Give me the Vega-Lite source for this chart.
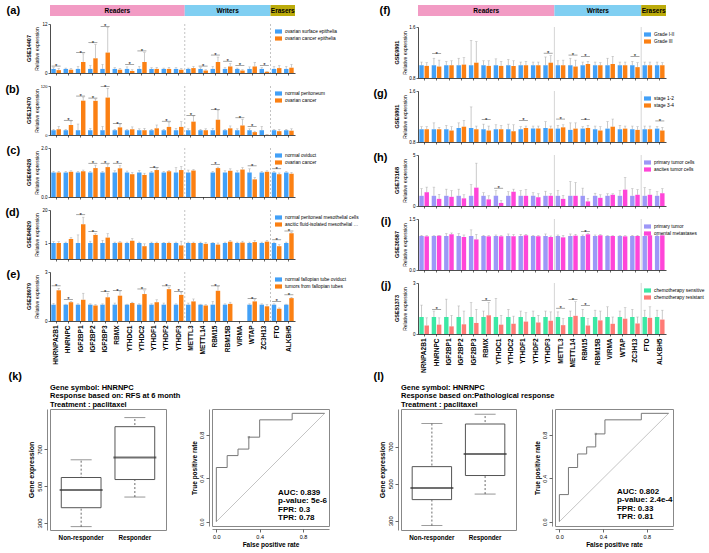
{
"$schema":"https://vega.github.io/schema/vega-lite/v6.json",
"padding":{"left":5,"top":5,"right":0,"bottom":0},
"config":{"font":"Liberation Sans","view":{"stroke":null},
 "axis":{"domainColor":"#000","tickColor":"#000","labelColor":"#000","titleColor":"#000","grid":false,"domainWidth":0.7,"tickWidth":0.6},
 "title":{"color":"#000"},
 "legend":{"labelFontSize":4.8,"symbolType":"M-1,-0.6H1V0.6H-1Z","symbolSize":49,"symbolStrokeWidth":0,"rowPadding":1,"labelLimit":75,"padding":0,"labelOffset":3,"labelColor":"#000"}},
"datasets":{
"sep":[{"g":"METTL3"},{"g":"FTO"}],
"hdr":[{"grp":"Readers","s":0,"e":11,"m":5.5},{"grp":"Writers","s":11,"e":18,"m":14.5},{"grp":"Erasers","s":18,"e":20,"m":19}],
"a":[{"g":"HNRNPA2B1","k":0,"v":1,"h":1.3},{"g":"HNRNPA2B1","k":1,"v":0.7,"h":1.1},{"g":"HNRNPC","k":0,"v":1,"h":1.2},{"g":"HNRNPC","k":1,"v":0.8,"h":1.1},{"g":"IGF2BP1","k":0,"v":1,"h":1.6},{"g":"IGF2BP1","k":1,"v":2.7,"h":4.7},{"g":"IGF2BP2","k":0,"v":1,"h":1.8},{"g":"IGF2BP2","k":1,"v":3.6,"h":7},{"g":"IGF2BP3","k":0,"v":1,"h":2.1},{"g":"IGF2BP3","k":1,"v":5,"h":11.2},{"g":"RBMX","k":0,"v":1,"h":1.3},{"g":"RBMX","k":1,"v":0.8,"h":1.1},{"g":"YTHDC1","k":0,"v":1,"h":1.5},{"g":"YTHDC1","k":1,"v":0.5,"h":0.8},{"g":"YTHDC2","k":0,"v":1,"h":1.6},{"g":"YTHDC2","k":1,"v":2.7,"h":5},{"g":"YTHDF1","k":0,"v":1,"h":1.3},{"g":"YTHDF1","k":1,"v":1,"h":1.4},{"g":"YTHDF2","k":0,"v":1,"h":1.2},{"g":"YTHDF2","k":1,"v":1,"h":1.4},{"g":"YTHDF3","k":0,"v":1,"h":1.3},{"g":"YTHDF3","k":1,"v":0.8,"h":1.1},{"g":"METTL3","k":0,"v":1,"h":1.2},{"g":"METTL3","k":1,"v":1.2,"h":1.6},{"g":"METTL14","k":0,"v":1,"h":1.3},{"g":"METTL14","k":1,"v":0.6,"h":0.8},{"g":"RBM15","k":0,"v":1,"h":1.6},{"g":"RBM15","k":1,"v":2.7,"h":3.9},{"g":"RBM15B","k":0,"v":1,"h":1.3},{"g":"RBM15B","k":1,"v":1.6,"h":2.3},{"g":"VIRMA","k":0,"v":1,"h":1.2},{"g":"VIRMA","k":1,"v":0.6,"h":0.8},{"g":"WTAP","k":0,"v":1,"h":1.5},{"g":"WTAP","k":1,"v":1.6,"h":2.6},{"g":"ZC3H13","k":0,"v":1,"h":1.3},{"g":"ZC3H13","k":1,"v":0.3,"h":0.4},{"g":"FTO","k":0,"v":1,"h":1.6},{"g":"FTO","k":1,"v":1.2,"h":1.8},{"g":"ALKBH5","k":0,"v":1,"h":1.6},{"g":"ALKBH5","k":1,"v":1.3,"h":2.1}],
"a_s":[{"g":"HNRNPA2B1","v":1.7},{"g":"IGF2BP1","v":5.0},{"g":"IGF2BP2","v":7.4},{"g":"IGF2BP3","v":11.4},{"g":"YTHDC1","v":2.1},{"g":"YTHDC2","v":5.4},{"g":"METTL14","v":1.7},{"g":"RBM15","v":4.4},{"g":"RBM15B","v":2.9},{"g":"VIRMA","v":1.9},{"g":"ZC3H13","v":1.9}],
"b":[{"g":"HNRNPA2B1","k":0,"v":1,"h":1.2},{"g":"HNRNPA2B1","k":1,"v":1.2,"h":1.8},{"g":"HNRNPC","k":0,"v":1,"h":1.2},{"g":"HNRNPC","k":1,"v":2.1,"h":2.9},{"g":"IGF2BP1","k":0,"v":1,"h":2.3},{"g":"IGF2BP1","k":1,"v":25,"h":48},{"g":"IGF2BP2","k":0,"v":1,"h":1.4},{"g":"IGF2BP2","k":1,"v":24,"h":36},{"g":"IGF2BP3","k":0,"v":1,"h":1.8},{"g":"IGF2BP3","k":1,"v":45,"h":105},{"g":"RBMX","k":0,"v":1,"h":1.2},{"g":"RBMX","k":1,"v":1.6,"h":2.2},{"g":"YTHDC1","k":0,"v":1,"h":1.2},{"g":"YTHDC1","k":1,"v":1.2,"h":1.7},{"g":"YTHDC2","k":0,"v":1,"h":1.3},{"g":"YTHDC2","k":1,"v":1.0,"h":1.4},{"g":"YTHDF1","k":0,"v":1,"h":1.2},{"g":"YTHDF1","k":1,"v":1.4,"h":2.1},{"g":"YTHDF2","k":0,"v":1,"h":1.2},{"g":"YTHDF2","k":1,"v":1.7,"h":2.6},{"g":"YTHDF3","k":0,"v":1,"h":1.4},{"g":"YTHDF3","k":1,"v":1.7,"h":2.8},{"g":"METTL3","k":0,"v":1,"h":1.3},{"g":"METTL3","k":1,"v":2.8,"h":4.0},{"g":"METTL14","k":0,"v":1,"h":1.2},{"g":"METTL14","k":1,"v":1.0,"h":1.3},{"g":"RBM15","k":0,"v":1,"h":1.4},{"g":"RBM15","k":1,"v":3.2,"h":5.2},{"g":"RBM15B","k":0,"v":1,"h":1.2},{"g":"RBM15B","k":1,"v":1.4,"h":1.9},{"g":"VIRMA","k":0,"v":1,"h":1.3},{"g":"VIRMA","k":1,"v":2.0,"h":3.3},{"g":"WTAP","k":0,"v":1,"h":1.3},{"g":"WTAP","k":1,"v":0.6,"h":0.8},{"g":"ZC3H13","k":0,"v":1,"h":1.8},{"g":"ZC3H13","k":1,"v":0.05,"h":0.1},{"g":"FTO","k":0,"v":1,"h":1.2},{"g":"FTO","k":1,"v":0.8,"h":1.2},{"g":"ALKBH5","k":0,"v":1,"h":1.2},{"g":"ALKBH5","k":1,"v":0.9,"h":1.3}],
"b_s":[{"g":"HNRNPC","v":3.1},{"g":"IGF2BP1","v":55},{"g":"IGF2BP2","v":42},{"g":"IGF2BP3","v":115},{"g":"RBMX","v":2.4},{"g":"YTHDF2","v":2.9},{"g":"METTL3","v":4.1},{"g":"RBM15","v":5.3},{"g":"VIRMA","v":3.6},{"g":"WTAP","v":1.8}],
"c":[{"g":"HNRNPA2B1","k":0,"v":1,"h":1.05},{"g":"HNRNPA2B1","k":1,"v":1.0,"h":1.05},{"g":"HNRNPC","k":0,"v":1,"h":1.05},{"g":"HNRNPC","k":1,"v":1.03,"h":1.07},{"g":"IGF2BP1","k":0,"v":1,"h":1.05},{"g":"IGF2BP1","k":1,"v":1.05,"h":1.1},{"g":"IGF2BP2","k":0,"v":1,"h":1.05},{"g":"IGF2BP2","k":1,"v":1.18,"h":1.3},{"g":"IGF2BP3","k":0,"v":1,"h":1.04},{"g":"IGF2BP3","k":1,"v":1.22,"h":1.33},{"g":"RBMX","k":0,"v":1,"h":1.07},{"g":"RBMX","k":1,"v":1.17,"h":1.28},{"g":"YTHDC1","k":0,"v":1,"h":1.06},{"g":"YTHDC1","k":1,"v":0.93,"h":1.0},{"g":"YTHDC2","k":0,"v":1,"h":1.08},{"g":"YTHDC2","k":1,"v":0.9,"h":0.97},{"g":"YTHDF1","k":0,"v":1,"h":1.05},{"g":"YTHDF1","k":1,"v":1.1,"h":1.15},{"g":"YTHDF2","k":0,"v":1,"h":1.05},{"g":"YTHDF2","k":1,"v":1.05,"h":1.09},{"g":"YTHDF3","k":0,"v":1,"h":1.2},{"g":"YTHDF3","k":1,"v":1.1,"h":1.25},{"g":"METTL3","k":0,"v":1,"h":1.1},{"g":"METTL3","k":1,"v":1.08,"h":1.12},{"g":"RBM15","k":0,"v":1,"h":1.05},{"g":"RBM15","k":1,"v":1.18,"h":1.22},{"g":"RBM15B","k":0,"v":1,"h":1.07},{"g":"RBM15B","k":1,"v":1.07,"h":1.15},{"g":"VIRMA","k":0,"v":1,"h":1.07},{"g":"VIRMA","k":1,"v":1.12,"h":1.2},{"g":"WTAP","k":0,"v":1,"h":1.15},{"g":"WTAP","k":1,"v":0.72,"h":0.8},{"g":"ZC3H13","k":0,"v":1,"h":1.05},{"g":"ZC3H13","k":1,"v":1.03,"h":1.07},{"g":"FTO","k":0,"v":1,"h":1.05},{"g":"FTO","k":1,"v":0.93,"h":0.98},{"g":"ALKBH5","k":0,"v":1,"h":1.04},{"g":"ALKBH5","k":1,"v":0.95,"h":1.0}],
"c_s":[{"g":"IGF2BP2","v":1.38},{"g":"IGF2BP3","v":1.38},{"g":"RBMX","v":1.38},{"g":"YTHDF1","v":1.2},{"g":"RBM15","v":1.33},{"g":"WTAP","v":1.27},{"g":"FTO","v":1.15}],
"d":[{"g":"HNRNPA2B1","k":0,"v":1,"h":1.15},{"g":"HNRNPA2B1","k":1,"v":1.0,"h":1.15},{"g":"HNRNPC","k":0,"v":1,"h":1.1},{"g":"HNRNPC","k":1,"v":1.45,"h":1.6},{"g":"IGF2BP1","k":0,"v":1,"h":1.9},{"g":"IGF2BP1","k":1,"v":8.5,"h":14},{"g":"IGF2BP2","k":0,"v":1,"h":1.2},{"g":"IGF2BP2","k":1,"v":1.9,"h":2.2},{"g":"IGF2BP3","k":0,"v":1,"h":1.3},{"g":"IGF2BP3","k":1,"v":1.6,"h":2.2},{"g":"RBMX","k":0,"v":1,"h":1.1},{"g":"RBMX","k":1,"v":1.05,"h":1.15},{"g":"YTHDC1","k":0,"v":1,"h":1.1},{"g":"YTHDC1","k":1,"v":1.25,"h":1.5},{"g":"YTHDC2","k":0,"v":1,"h":1.1},{"g":"YTHDC2","k":1,"v":0.8,"h":0.95},{"g":"YTHDF1","k":0,"v":1,"h":1.1},{"g":"YTHDF1","k":1,"v":1.0,"h":1.1},{"g":"YTHDF2","k":0,"v":1,"h":1.08},{"g":"YTHDF2","k":1,"v":1.0,"h":1.1},{"g":"YTHDF3","k":0,"v":1,"h":1.1},{"g":"YTHDF3","k":1,"v":0.85,"h":1.2},{"g":"METTL3","k":0,"v":1,"h":1.1},{"g":"METTL3","k":1,"v":1.0,"h":1.1},{"g":"METTL14","k":0,"v":1,"h":1.1},{"g":"METTL14","k":1,"v":0.95,"h":1.05},{"g":"RBM15","k":0,"v":1,"h":1.05},{"g":"RBM15","k":1,"v":0.9,"h":1.0},{"g":"RBM15B","k":0,"v":1,"h":1.1},{"g":"RBM15B","k":1,"v":1.15,"h":1.3},{"g":"VIRMA","k":0,"v":1,"h":1.1},{"g":"VIRMA","k":1,"v":1.05,"h":1.2},{"g":"WTAP","k":0,"v":1,"h":1.1},{"g":"WTAP","k":1,"v":1.1,"h":1.3},{"g":"ZC3H13","k":0,"v":1,"h":1.1},{"g":"ZC3H13","k":1,"v":1.15,"h":1.3},{"g":"FTO","k":0,"v":1,"h":1.1},{"g":"FTO","k":1,"v":0.8,"h":0.9},{"g":"ALKBH5","k":0,"v":1,"h":1.1},{"g":"ALKBH5","k":1,"v":2.5,"h":3}],
"d_s":[{"g":"IGF2BP1","v":16},{"g":"IGF2BP2","v":3.5},{"g":"FTO","v":1.35},{"g":"ALKBH5","v":4}],
"e":[{"g":"HNRNPA2B1","k":0,"v":1,"h":1.08},{"g":"HNRNPA2B1","k":1,"v":1.88,"h":2.0},{"g":"HNRNPC","k":0,"v":1,"h":1.03},{"g":"HNRNPC","k":1,"v":1.15,"h":1.2},{"g":"IGF2BP1","k":0,"v":1,"h":1.05},{"g":"IGF2BP1","k":1,"v":1.3,"h":1.7},{"g":"IGF2BP2","k":0,"v":1,"h":1.05},{"g":"IGF2BP2","k":1,"v":0.95,"h":1.0},{"g":"IGF2BP3","k":0,"v":1,"h":1.05},{"g":"IGF2BP3","k":1,"v":1.45,"h":1.7},{"g":"RBMX","k":0,"v":1,"h":1.1},{"g":"RBMX","k":1,"v":1.55,"h":1.8},{"g":"YTHDC1","k":0,"v":1,"h":1.03},{"g":"YTHDC1","k":1,"v":1.1,"h":1.15},{"g":"YTHDC2","k":0,"v":1,"h":1.05},{"g":"YTHDC2","k":1,"v":1.65,"h":1.85},{"g":"YTHDF1","k":0,"v":1,"h":1.05},{"g":"YTHDF1","k":1,"v":1.15,"h":1.3},{"g":"YTHDF2","k":0,"v":1,"h":1.1},{"g":"YTHDF2","k":1,"v":1.95,"h":2.05},{"g":"YTHDF3","k":0,"v":1,"h":1.05},{"g":"YTHDF3","k":1,"v":1.6,"h":1.75},{"g":"METTL3","k":0,"v":1,"h":1.1},{"g":"METTL3","k":1,"v":1.2,"h":1.35},{"g":"METTL14","k":0,"v":1,"h":1.03},{"g":"METTL14","k":1,"v":0.95,"h":1.0},{"g":"RBM15","k":0,"v":1,"h":1.2},{"g":"RBM15","k":1,"v":1.85,"h":2.1},{"g":"RBM15B","k":0,"v":1,"h":1.05},{"g":"RBM15B","k":1,"v":1.05,"h":1.15},{"g":"WTAP","k":0,"v":1,"h":1.05},{"g":"WTAP","k":1,"v":1.2,"h":1.3},{"g":"ZC3H13","k":0,"v":1,"h":1.05},{"g":"ZC3H13","k":1,"v":0.9,"h":1.0},{"g":"FTO","k":0,"v":1,"h":1.05},{"g":"FTO","k":1,"v":0.75,"h":0.8},{"g":"ALKBH5","k":0,"v":1,"h":1.03},{"g":"ALKBH5","k":1,"v":1.4,"h":1.45}],
"e_s":[{"g":"HNRNPA2B1","v":2.15},{"g":"HNRNPC","v":1.33},{"g":"IGF2BP3","v":1.8},{"g":"RBMX","v":1.86},{"g":"YTHDC2","v":1.96},{"g":"YTHDF2","v":2.15},{"g":"YTHDF3","v":1.82},{"g":"RBM15","v":2.15},{"g":"WTAP","v":1.37},{"g":"FTO","v":1.2},{"g":"ALKBH5","v":1.6}],
"f":[{"g":"HNRNPA2B1","k":0,"v":1,"h":1.05},{"g":"HNRNPA2B1","k":1,"v":0.99,"h":1.04},{"g":"HNRNPC","k":0,"v":1,"h":1.11},{"g":"HNRNPC","k":1,"v":0.98,"h":1.08},{"g":"IGF2BP1","k":0,"v":1,"h":1.06},{"g":"IGF2BP1","k":1,"v":1.0,"h":1.07},{"g":"IGF2BP2","k":0,"v":1,"h":1.11},{"g":"IGF2BP2","k":1,"v":1.01,"h":1.12},{"g":"IGF2BP3","k":0,"v":1,"h":1.39},{"g":"IGF2BP3","k":1,"v":1.04,"h":1.37},{"g":"RBMX","k":0,"v":1,"h":1.07},{"g":"RBMX","k":1,"v":0.99,"h":1.07},{"g":"YTHDC1","k":0,"v":1,"h":1.1},{"g":"YTHDC1","k":1,"v":0.99,"h":1.06},{"g":"YTHDC2","k":0,"v":1,"h":1.09},{"g":"YTHDC2","k":1,"v":0.99,"h":1.07},{"g":"YTHDF1","k":0,"v":1,"h":1.05},{"g":"YTHDF1","k":1,"v":1.0,"h":1.06},{"g":"YTHDF2","k":0,"v":1,"h":1.05},{"g":"YTHDF2","k":1,"v":1.0,"h":1.05},{"g":"YTHDF3","k":0,"v":1,"h":1.13},{"g":"YTHDF3","k":1,"v":1.04,"h":1.15},{"g":"METTL3","k":0,"v":1,"h":1.07},{"g":"METTL3","k":1,"v":1.0,"h":1.08},{"g":"METTL14","k":0,"v":1,"h":1.11},{"g":"METTL14","k":1,"v":0.98,"h":1.08},{"g":"RBM15","k":0,"v":1,"h":1.05},{"g":"RBM15","k":1,"v":1.02,"h":1.06},{"g":"RBM15B","k":0,"v":1,"h":1.05},{"g":"RBM15B","k":1,"v":1.0,"h":1.04},{"g":"VIRMA","k":0,"v":1,"h":1.11},{"g":"VIRMA","k":1,"v":1.02,"h":1.14},{"g":"WTAP","k":0,"v":1,"h":1.05},{"g":"WTAP","k":1,"v":1.0,"h":1.05},{"g":"ZC3H13","k":0,"v":1,"h":1.06},{"g":"ZC3H13","k":1,"v":0.97,"h":1.04},{"g":"FTO","k":0,"v":1,"h":1.05},{"g":"FTO","k":1,"v":1.0,"h":1.05},{"g":"ALKBH5","k":0,"v":1,"h":1.05},{"g":"ALKBH5","k":1,"v":1.0,"h":1.04}],
"f_s":[{"g":"HNRNPC","v":1.18},{"g":"YTHDF3","v":1.19},{"g":"METTL14","v":1.16},{"g":"RBM15","v":1.14},{"g":"ZC3H13","v":1.14}],
"g":[{"g":"HNRNPA2B1","k":0,"v":1,"h":1.04},{"g":"HNRNPA2B1","k":1,"v":1.0,"h":1.04},{"g":"HNRNPC","k":0,"v":1,"h":1.1},{"g":"HNRNPC","k":1,"v":1.0,"h":1.03},{"g":"IGF2BP1","k":0,"v":1,"h":1.06},{"g":"IGF2BP1","k":1,"v":0.98,"h":1.04},{"g":"IGF2BP2","k":0,"v":1.02,"h":1.1},{"g":"IGF2BP2","k":1,"v":1.04,"h":1.14},{"g":"IGF2BP3","k":0,"v":1.02,"h":1.35},{"g":"IGF2BP3","k":1,"v":1.0,"h":1.05},{"g":"RBMX","k":0,"v":1,"h":1.08},{"g":"RBMX","k":1,"v":0.98,"h":1.05},{"g":"YTHDC1","k":0,"v":1,"h":1.07},{"g":"YTHDC1","k":1,"v":1.0,"h":1.06},{"g":"YTHDC2","k":0,"v":1,"h":1.08},{"g":"YTHDC2","k":1,"v":0.97,"h":1.07},{"g":"YTHDF1","k":0,"v":1,"h":1.04},{"g":"YTHDF1","k":1,"v":1.02,"h":1.05},{"g":"YTHDF2","k":0,"v":1.01,"h":1.05},{"g":"YTHDF2","k":1,"v":1.01,"h":1.05},{"g":"YTHDF3","k":0,"v":1.02,"h":1.12},{"g":"YTHDF3","k":1,"v":1.01,"h":1.05},{"g":"METTL3","k":0,"v":1.01,"h":1.06},{"g":"METTL3","k":1,"v":1.03,"h":1.07},{"g":"METTL14","k":0,"v":0.99,"h":1.1},{"g":"METTL14","k":1,"v":1.01,"h":1.1},{"g":"RBM15","k":0,"v":1.01,"h":1.04},{"g":"RBM15","k":1,"v":1.02,"h":1.06},{"g":"RBM15B","k":0,"v":1,"h":1.05},{"g":"RBM15B","k":1,"v":0.98,"h":1.04},{"g":"VIRMA","k":0,"v":1.01,"h":1.12},{"g":"VIRMA","k":1,"v":1.04,"h":1.16},{"g":"WTAP","k":0,"v":1,"h":1.06},{"g":"WTAP","k":1,"v":1.01,"h":1.05},{"g":"ZC3H13","k":0,"v":1,"h":1.05},{"g":"ZC3H13","k":1,"v":0.99,"h":1.04},{"g":"FTO","k":0,"v":1,"h":1.05},{"g":"FTO","k":1,"v":1.0,"h":1.05},{"g":"ALKBH5","k":0,"v":1.01,"h":1.04},{"g":"ALKBH5","k":1,"v":0.98,"h":1.03}],
"g_s":[{"g":"RBMX","v":1.15},{"g":"YTHDF1","v":1.14},{"g":"METTL3","v":1.16},{"g":"RBM15","v":1.15},{"g":"ALKBH5","v":1.13}],
"h":[{"g":"HNRNPA2B1","k":0,"v":1,"h":1.7},{"g":"HNRNPA2B1","k":1,"v":1.35,"h":1.85},{"g":"HNRNPC","k":0,"v":1,"h":1.85},{"g":"HNRNPC","k":1,"v":0.7,"h":1.15},{"g":"IGF2BP1","k":0,"v":1,"h":1.65},{"g":"IGF2BP1","k":1,"v":0.9,"h":1.5},{"g":"IGF2BP2","k":0,"v":1,"h":1.65},{"g":"IGF2BP2","k":1,"v":0.75,"h":1.1},{"g":"IGF2BP3","k":0,"v":1,"h":2.1},{"g":"IGF2BP3","k":1,"v":1.8,"h":4.2},{"g":"RBMX","k":0,"v":1,"h":1.3},{"g":"RBMX","k":1,"v":0.65,"h":1.0},{"g":"YTHDC1","k":0,"v":1,"h":1.5},{"g":"YTHDC1","k":1,"v":0.3,"h":0.55},{"g":"YTHDC2","k":0,"v":1,"h":1.4},{"g":"YTHDC2","k":1,"v":1.4,"h":1.65},{"g":"YTHDF1","k":0,"v":1,"h":1.5},{"g":"YTHDF1","k":1,"v":1.0,"h":1.6},{"g":"YTHDF2","k":0,"v":1,"h":1.3},{"g":"YTHDF2","k":1,"v":0.85,"h":1.2},{"g":"YTHDF3","k":0,"v":1,"h":1.45},{"g":"YTHDF3","k":1,"v":1.0,"h":1.2},{"g":"METTL3","k":0,"v":1,"h":1.5},{"g":"METTL3","k":1,"v":0.7,"h":1.05},{"g":"METTL14","k":0,"v":1,"h":2.4},{"g":"METTL14","k":1,"v":1.0,"h":2.3},{"g":"RBM15","k":0,"v":1,"h":1.75},{"g":"RBM15","k":1,"v":0.45,"h":0.75},{"g":"RBM15B","k":0,"v":1,"h":1.25},{"g":"RBM15B","k":1,"v":0.8,"h":1.1},{"g":"VIRMA","k":0,"v":1,"h":1.2},{"g":"VIRMA","k":1,"v":1.1,"h":1.2},{"g":"WTAP","k":0,"v":1,"h":1.5},{"g":"WTAP","k":1,"v":1.6,"h":2.8},{"g":"ZC3H13","k":0,"v":1,"h":1.7},{"g":"ZC3H13","k":1,"v":1.1,"h":1.6},{"g":"FTO","k":0,"v":1,"h":1.8},{"g":"FTO","k":1,"v":1.1,"h":1.6},{"g":"ALKBH5","k":0,"v":1,"h":1.4},{"g":"ALKBH5","k":1,"v":1.25,"h":1.7}],
"h_s":[{"g":"YTHDC1","v":1.75}],
"i":[{"g":"HNRNPA2B1","k":0,"v":1,"h":1.02},{"g":"HNRNPA2B1","k":1,"v":0.99,"h":1.01},{"g":"HNRNPC","k":0,"v":1,"h":1.01},{"g":"HNRNPC","k":1,"v":1.01,"h":1.02},{"g":"IGF2BP1","k":0,"v":1,"h":1.07},{"g":"IGF2BP1","k":1,"v":1.05,"h":1.09},{"g":"IGF2BP2","k":0,"v":1,"h":1.07},{"g":"IGF2BP2","k":1,"v":0.97,"h":1.03},{"g":"IGF2BP3","k":0,"v":1,"h":1.18},{"g":"IGF2BP3","k":1,"v":0.9,"h":1.05},{"g":"RBMX","k":0,"v":1,"h":1.02},{"g":"RBMX","k":1,"v":0.99,"h":1.01},{"g":"YTHDC1","k":0,"v":1,"h":1.03},{"g":"YTHDC1","k":1,"v":0.99,"h":1.01},{"g":"YTHDC2","k":0,"v":1,"h":1.06},{"g":"YTHDC2","k":1,"v":0.99,"h":1.04},{"g":"YTHDF1","k":0,"v":1,"h":1.05},{"g":"YTHDF1","k":1,"v":1.02,"h":1.05},{"g":"YTHDF2","k":0,"v":1,"h":1.02},{"g":"YTHDF2","k":1,"v":0.99,"h":1.01},{"g":"YTHDF3","k":0,"v":1,"h":1.06},{"g":"YTHDF3","k":1,"v":0.97,"h":1.0},{"g":"METTL3","k":0,"v":1,"h":1.03},{"g":"METTL3","k":1,"v":0.96,"h":1.02},{"g":"METTL14","k":0,"v":1,"h":1.06},{"g":"METTL14","k":1,"v":1.01,"h":1.05},{"g":"RBM15","k":0,"v":1,"h":1.03},{"g":"RBM15","k":1,"v":1.05,"h":1.07},{"g":"RBM15B","k":0,"v":1,"h":1.03},{"g":"RBM15B","k":1,"v":1.02,"h":1.04},{"g":"VIRMA","k":0,"v":1,"h":1.01},{"g":"VIRMA","k":1,"v":1.0,"h":1.01},{"g":"WTAP","k":0,"v":1,"h":1.01},{"g":"WTAP","k":1,"v":0.99,"h":1.01},{"g":"ZC3H13","k":0,"v":1,"h":1.02},{"g":"ZC3H13","k":1,"v":1.0,"h":1.02},{"g":"FTO","k":0,"v":1,"h":1.06},{"g":"FTO","k":1,"v":1.02,"h":1.06},{"g":"ALKBH5","k":0,"v":1,"h":1.02},{"g":"ALKBH5","k":1,"v":1.02,"h":1.04}],
"i_s":[{"g":"RBM15","v":1.13}],
"j":[{"g":"HNRNPA2B1","k":0,"v":1,"h":1.7},{"g":"HNRNPA2B1","k":1,"v":0.5,"h":0.95},{"g":"HNRNPC","k":0,"v":1,"h":1.35},{"g":"HNRNPC","k":1,"v":0.55,"h":0.95},{"g":"IGF2BP1","k":0,"v":1,"h":2.05},{"g":"IGF2BP1","k":1,"v":0.45,"h":1.1},{"g":"IGF2BP2","k":0,"v":1,"h":1.65},{"g":"IGF2BP2","k":1,"v":0.57,"h":1.35},{"g":"IGF2BP3","k":0,"v":1,"h":1.85},{"g":"IGF2BP3","k":1,"v":0.65,"h":1.45},{"g":"RBMX","k":0,"v":1,"h":1.35},{"g":"RBMX","k":1,"v":1.1,"h":1.85},{"g":"YTHDC1","k":0,"v":1,"h":2.1},{"g":"YTHDC1","k":1,"v":0.55,"h":1.1},{"g":"YTHDC2","k":0,"v":1,"h":1.45},{"g":"YTHDC2","k":1,"v":0.6,"h":1.05},{"g":"YTHDF1","k":0,"v":1,"h":1.35},{"g":"YTHDF1","k":1,"v":0.73,"h":1.25},{"g":"YTHDF2","k":0,"v":1,"h":1.35},{"g":"YTHDF2","k":1,"v":0.68,"h":1.1},{"g":"YTHDF3","k":0,"v":1,"h":1.35},{"g":"YTHDF3","k":1,"v":0.78,"h":1.3},{"g":"METTL3","k":0,"v":1,"h":1.3},{"g":"METTL3","k":1,"v":0.52,"h":0.9},{"g":"METTL14","k":0,"v":1,"h":1.35},{"g":"METTL14","k":1,"v":1.07,"h":1.9},{"g":"RBM15","k":0,"v":1,"h":1.45},{"g":"RBM15","k":1,"v":0.5,"h":0.9},{"g":"RBM15B","k":0,"v":1,"h":1.4},{"g":"RBM15B","k":1,"v":0.8,"h":1.35},{"g":"VIRMA","k":0,"v":1,"h":1.6},{"g":"VIRMA","k":1,"v":0.6,"h":1.0},{"g":"WTAP","k":0,"v":1,"h":1.35},{"g":"WTAP","k":1,"v":0.9,"h":1.55},{"g":"ZC3H13","k":0,"v":1,"h":1.45},{"g":"ZC3H13","k":1,"v":0.62,"h":1.0},{"g":"FTO","k":0,"v":1,"h":1.4},{"g":"FTO","k":1,"v":0.95,"h":1.6},{"g":"ALKBH5","k":0,"v":1,"h":1.4},{"g":"ALKBH5","k":1,"v":0.85,"h":1.4}],
"j_s":[{"g":"HNRNPC","v":1.45},{"g":"RBMX","v":1.98},{"g":"METTL3","v":1.52},{"g":"METTL14","v":2.02},{"g":"RBM15","v":1.68}],
"box":[{"p":"k","grp":"Non-responder","lo":280,"q1":383,"med":479,"q3":547,"hi":643},{"p":"k","grp":"Responder","lo":441,"q1":536,"med":656,"q3":823,"hi":872},{"p":"l","grp":"Non-responder","lo":274,"q1":414,"med":477,"q3":592,"hi":825},{"p":"l","grp":"Responder","lo":444,"q1":544,"med":660,"q3":822,"hi":875}],
"roc":[{"p":"k","i":0,"fpr":0,"tpr":0},{"p":"k","i":1,"fpr":0,"tpr":0.5},{"p":"k","i":2,"fpr":0.1,"tpr":0.5},{"p":"k","i":3,"fpr":0.1,"tpr":0.61},{"p":"k","i":4,"fpr":0.2,"tpr":0.61},{"p":"k","i":5,"fpr":0.2,"tpr":0.67},{"p":"k","i":6,"fpr":0.3,"tpr":0.67},{"p":"k","i":7,"fpr":0.3,"tpr":0.78},{"p":"k","i":8,"fpr":0.4,"tpr":0.78},{"p":"k","i":9,"fpr":0.4,"tpr":0.94},{"p":"k","i":10,"fpr":0.7,"tpr":0.94},{"p":"k","i":11,"fpr":0.7,"tpr":1},{"p":"k","i":12,"fpr":1,"tpr":1},
{"p":"l","i":0,"fpr":0,"tpr":0},{"p":"l","i":1,"fpr":0,"tpr":0.25},{"p":"l","i":2,"fpr":0.083,"tpr":0.25},{"p":"l","i":3,"fpr":0.083,"tpr":0.5},{"p":"l","i":4,"fpr":0.167,"tpr":0.5},{"p":"l","i":5,"fpr":0.167,"tpr":0.625},{"p":"l","i":6,"fpr":0.25,"tpr":0.625},{"p":"l","i":7,"fpr":0.25,"tpr":0.69},{"p":"l","i":8,"fpr":0.333,"tpr":0.69},{"p":"l","i":9,"fpr":0.333,"tpr":0.81},{"p":"l","i":10,"fpr":0.417,"tpr":0.81},{"p":"l","i":11,"fpr":0.417,"tpr":0.94},{"p":"l","i":12,"fpr":0.75,"tpr":0.94},{"p":"l","i":13,"fpr":0.75,"tpr":1},{"p":"l","i":14,"fpr":1,"tpr":1}]
},
"columns":1,"align":"none","spacing":-2,
"resolve":{"scale":{"color":"independent"},"legend":{"color":"independent"}},
"concat":[
{"spacing":14,"resolve":{"scale":{"color":"independent"},"legend":{"color":"independent"}},"hconcat":[
 {"spacing":7,"resolve":{"scale":{"color":"independent"},"legend":{"color":"independent"}},"vconcat":[
  {"title":{"text":"(a)","orient":"left","anchor":"end","angle":0,"fontSize":11,"fontWeight":"bold","offset":-7,"align":"right","baseline":"top"},
   "spacing":5,"resolve":{"scale":{"color":"independent"},"legend":{"color":"independent"}},"vconcat":[
   {"width":245,"height":11,"data":{"name":"hdr"},"layer":[
     {"mark":{"type":"rect"},"encoding":{"x":{"field":"s","type":"quantitative","scale":{"domain":[0,20],"nice":false},"axis":null},"x2":{"field":"e"},"color":{"field":"grp","type":"nominal","scale":{"domain":["Readers","Writers","Erasers"],"range":["#f29bc4","#80cff2","#bcab0a"]},"legend":null}}},
     {"mark":{"type":"text","fontSize":6.5,"fontWeight":"bold","color":"#000"},"encoding":{"x":{"field":"m","type":"quantitative"},"text":{"field":"grp"}}}]},
   {"width":245,"height":49,"title":{"text":"GSE14407","orient":"left","fontSize":5.5,"fontWeight":"bold","offset":2},
    "layer":[
     {"data":{"name":"sep"},"mark":{"type":"rule","color":"#9a9a9a","strokeDash":[2,2],"strokeWidth":0.6},"encoding":{"x":{"field":"g","type":"nominal","bandPosition":0}}},
     {"data":{"name":"a"},"mark":{"type":"bar","clip":true},"encoding":{
       "x":{"field":"g","type":"nominal","scale":{"domain":["HNRNPA2B1","HNRNPC","IGF2BP1","IGF2BP2","IGF2BP3","RBMX","YTHDC1","YTHDC2","YTHDF1","YTHDF2","YTHDF3","METTL3","METTL14","RBM15","RBM15B","VIRMA","WTAP","ZC3H13","FTO","ALKBH5"],"paddingInner":0,"paddingOuter":0},"axis":{"labels":false,"title":null,"tickSize":2}},
       "xOffset":{"field":"k","type":"nominal","scale":{"paddingInner":0.15,"paddingOuter":0.25}},
       "y":{"field":"v","type":"quantitative","scale":{"domain":[0,12],"nice":false},"axis":{"title":"Relative expression","titleFontSize":5,"titleFontWeight":"normal","titlePadding":2,"labelFontSize":4.5,"tickSize":2,"labelPadding":1,"minExtent":9,"maxExtent":9,"values":[0,3,6,9,12]}},
       "color":{"field":"k","type":"nominal","scale":{"range":["#42a0f7","#fb8013"]},"legend":{"title":null,"orient":"none","legendX":225,"legendY":4,"labelExpr":"datum.value==0?'ovarian surface epithelia':'ovarian cancer epithelia'"}}}},
     {"data":{"name":"a"},"mark":{"type":"rule","color":"#a6a6a6","strokeWidth":0.6},"encoding":{"x":{"field":"g","type":"nominal"},"xOffset":{"field":"k","type":"nominal"},"y":{"field":"v","type":"quantitative"},"y2":{"field":"h"}}},
     {"data":{"name":"a"},"mark":{"type":"tick","color":"#a6a6a6","thickness":0.6,"size":2.5},"encoding":{"x":{"field":"g","type":"nominal"},"xOffset":{"field":"k","type":"nominal"},"y":{"field":"h","type":"quantitative"}}},
     {"data":{"name":"a_s"},"mark":{"type":"tick","color":"#000","thickness":0.5,"size":9},"encoding":{"x":{"field":"g","type":"nominal"},"y":{"field":"v","type":"quantitative"}}},
     {"data":{"name":"a_s"},"mark":{"type":"text","text":"*","fontSize":6,"dy":2,"baseline":"alphabetic","color":"#000"},"encoding":{"x":{"field":"g","type":"nominal"},"y":{"field":"v","type":"quantitative"}}}
    ]}
  ]},
  {"title":{"text":"(b)","orient":"left","anchor":"end","angle":0,"fontSize":11,"fontWeight":"bold","offset":-7,"align":"right","baseline":"top"},
   "vconcat":[
   {"width":245,"height":49,"title":{"text":"GSE12470","orient":"left","fontSize":5.5,"fontWeight":"bold","offset":2},
    "layer":[
     {"data":{"name":"sep"},"mark":{"type":"rule","color":"#9a9a9a","strokeDash":[2,2],"strokeWidth":0.6},"encoding":{"x":{"field":"g","type":"nominal","bandPosition":0}}},
     {"data":{"name":"b"},"mark":{"type":"bar","clip":true},"encoding":{
       "x":{"field":"g","type":"nominal","scale":{"domain":["HNRNPA2B1","HNRNPC","IGF2BP1","IGF2BP2","IGF2BP3","RBMX","YTHDC1","YTHDC2","YTHDF1","YTHDF2","YTHDF3","METTL3","METTL14","RBM15","RBM15B","VIRMA","WTAP","ZC3H13","FTO","ALKBH5"],"paddingInner":0,"paddingOuter":0},"axis":{"labels":false,"title":null,"tickSize":2}},
       "xOffset":{"field":"k","type":"nominal","scale":{"paddingInner":0.15,"paddingOuter":0.25}},
       "y":{"field":"v","type":"quantitative","scale":{"domain":[0,6.5,10,120],"range":[49,18,17,0],"nice":false},"axis":{"title":"Relative expression","titleFontSize":5,"titleFontWeight":"normal","titlePadding":2,"labelFontSize":4,"tickSize":2,"labelPadding":1,"minExtent":9,"maxExtent":9,"values":[0,2,4,6,30,60,90,120]}},
       "color":{"field":"k","type":"nominal","scale":{"range":["#42a0f7","#fb8013"]},"legend":{"title":null,"orient":"none","legendX":225,"legendY":4,"labelExpr":"datum.value==0?'normal peritoneum':'ovarian cancer'"}}}},
     {"data":{"name":"b"},"mark":{"type":"rule","color":"#a6a6a6","strokeWidth":0.6},"encoding":{"x":{"field":"g","type":"nominal"},"xOffset":{"field":"k","type":"nominal"},"y":{"field":"v","type":"quantitative"},"y2":{"field":"h"}}},
     {"data":{"name":"b"},"mark":{"type":"tick","color":"#a6a6a6","thickness":0.6,"size":2.5},"encoding":{"x":{"field":"g","type":"nominal"},"xOffset":{"field":"k","type":"nominal"},"y":{"field":"h","type":"quantitative"}}},
     {"data":{"name":"b_s"},"mark":{"type":"tick","color":"#000","thickness":0.5,"size":9},"encoding":{"x":{"field":"g","type":"nominal"},"y":{"field":"v","type":"quantitative"}}},
     {"data":{"name":"b_s"},"mark":{"type":"text","text":"*","fontSize":6,"dy":2,"baseline":"alphabetic","color":"#000"},"encoding":{"x":{"field":"g","type":"nominal"},"y":{"field":"v","type":"quantitative"}}}
    ]}
  ]},
  {"title":{"text":"(c)","orient":"left","anchor":"end","angle":0,"fontSize":11,"fontWeight":"bold","offset":-7,"align":"right","baseline":"top"},
   "vconcat":[
   {"width":245,"height":49,"title":{"text":"GSE69428","orient":"left","fontSize":5.5,"fontWeight":"bold","offset":2},
    "layer":[
     {"data":{"name":"sep"},"mark":{"type":"rule","color":"#9a9a9a","strokeDash":[2,2],"strokeWidth":0.6},"encoding":{"x":{"field":"g","type":"nominal","bandPosition":0}}},
     {"data":{"name":"c"},"mark":{"type":"bar","clip":true},"encoding":{
       "x":{"field":"g","type":"nominal","scale":{"domain":["HNRNPA2B1","HNRNPC","IGF2BP1","IGF2BP2","IGF2BP3","RBMX","YTHDC1","YTHDC2","YTHDF1","YTHDF2","YTHDF3","METTL3","METTL14","RBM15","RBM15B","VIRMA","WTAP","ZC3H13","FTO","ALKBH5"],"paddingInner":0,"paddingOuter":0},"axis":{"labels":false,"title":null,"tickSize":2}},
       "xOffset":{"field":"k","type":"nominal","scale":{"paddingInner":0.15,"paddingOuter":0.25}},
       "y":{"field":"v","type":"quantitative","scale":{"domain":[0,2],"nice":false},"axis":{"title":"Relative expression","titleFontSize":5,"titleFontWeight":"normal","titlePadding":2,"labelFontSize":4.5,"tickSize":2,"labelPadding":1,"minExtent":9,"maxExtent":9,"values":[0,0.5,1,1.5,2],"format":".1f"}},
       "color":{"field":"k","type":"nominal","scale":{"range":["#42a0f7","#fb8013"]},"legend":{"title":null,"orient":"none","legendX":225,"legendY":4,"labelExpr":"datum.value==0?'normal oviduct':'ovarian cancer'"}}}},
     {"data":{"name":"c"},"mark":{"type":"rule","color":"#a6a6a6","strokeWidth":0.6},"encoding":{"x":{"field":"g","type":"nominal"},"xOffset":{"field":"k","type":"nominal"},"y":{"field":"v","type":"quantitative"},"y2":{"field":"h"}}},
     {"data":{"name":"c"},"mark":{"type":"tick","color":"#a6a6a6","thickness":0.6,"size":2.5},"encoding":{"x":{"field":"g","type":"nominal"},"xOffset":{"field":"k","type":"nominal"},"y":{"field":"h","type":"quantitative"}}},
     {"data":{"name":"c_s"},"mark":{"type":"tick","color":"#000","thickness":0.5,"size":9},"encoding":{"x":{"field":"g","type":"nominal"},"y":{"field":"v","type":"quantitative"}}},
     {"data":{"name":"c_s"},"mark":{"type":"text","text":"*","fontSize":6,"dy":2,"baseline":"alphabetic","color":"#000"},"encoding":{"x":{"field":"g","type":"nominal"},"y":{"field":"v","type":"quantitative"}}}
    ]}
  ]},
  {"title":{"text":"(d)","orient":"left","anchor":"end","angle":0,"fontSize":11,"fontWeight":"bold","offset":-7,"align":"right","baseline":"top"},
   "vconcat":[
   {"width":245,"height":49,"title":{"text":"GSE84829","orient":"left","fontSize":5.5,"fontWeight":"bold","offset":2},
    "layer":[
     {"data":{"name":"sep"},"mark":{"type":"rule","color":"#9a9a9a","strokeDash":[2,2],"strokeWidth":0.6},"encoding":{"x":{"field":"g","type":"nominal","bandPosition":0}}},
     {"data":{"name":"d"},"mark":{"type":"bar","clip":true},"encoding":{
       "x":{"field":"g","type":"nominal","scale":{"domain":["HNRNPA2B1","HNRNPC","IGF2BP1","IGF2BP2","IGF2BP3","RBMX","YTHDC1","YTHDC2","YTHDF1","YTHDF2","YTHDF3","METTL3","METTL14","RBM15","RBM15B","VIRMA","WTAP","ZC3H13","FTO","ALKBH5"],"paddingInner":0,"paddingOuter":0},"axis":{"labels":false,"title":null,"tickSize":2}},
       "xOffset":{"field":"k","type":"nominal","scale":{"paddingInner":0.15,"paddingOuter":0.25}},
       "y":{"field":"v","type":"quantitative","scale":{"domain":[0,1,2,10,20],"range":[49,33,24,12,0],"nice":false},"axis":{"title":"Relative expression","titleFontSize":5,"titleFontWeight":"normal","titlePadding":2,"labelFontSize":4.5,"tickSize":2,"labelPadding":1,"minExtent":9,"maxExtent":9,"values":[1,2,10,20]}},
       "color":{"field":"k","type":"nominal","scale":{"range":["#42a0f7","#fb8013"]},"legend":{"title":null,"orient":"none","legendX":225,"legendY":4,"labelExpr":"datum.value==0?'normal peritoneal mesothelial cells':'ascitic fluid-isolated mesothelial cells'"}}}},
     {"data":{"name":"d"},"mark":{"type":"rule","color":"#a6a6a6","strokeWidth":0.6},"encoding":{"x":{"field":"g","type":"nominal"},"xOffset":{"field":"k","type":"nominal"},"y":{"field":"v","type":"quantitative"},"y2":{"field":"h"}}},
     {"data":{"name":"d"},"mark":{"type":"tick","color":"#a6a6a6","thickness":0.6,"size":2.5},"encoding":{"x":{"field":"g","type":"nominal"},"xOffset":{"field":"k","type":"nominal"},"y":{"field":"h","type":"quantitative"}}},
     {"data":{"name":"d_s"},"mark":{"type":"tick","color":"#000","thickness":0.5,"size":9},"encoding":{"x":{"field":"g","type":"nominal"},"y":{"field":"v","type":"quantitative"}}},
     {"data":{"name":"d_s"},"mark":{"type":"text","text":"*","fontSize":6,"dy":2,"baseline":"alphabetic","color":"#000"},"encoding":{"x":{"field":"g","type":"nominal"},"y":{"field":"v","type":"quantitative"}}}
    ]}
  ]},
  {"title":{"text":"(e)","orient":"left","anchor":"end","angle":0,"fontSize":11,"fontWeight":"bold","offset":-7,"align":"right","baseline":"top"},
   "vconcat":[
   {"width":245,"height":49,"title":{"text":"GSE28979","orient":"left","fontSize":5.5,"fontWeight":"bold","offset":2},
    "layer":[
     {"data":{"name":"sep"},"mark":{"type":"rule","color":"#9a9a9a","strokeDash":[2,2],"strokeWidth":0.6},"encoding":{"x":{"field":"g","type":"nominal","bandPosition":0}}},
     {"data":{"name":"e"},"mark":{"type":"bar","clip":true},"encoding":{
       "x":{"field":"g","type":"nominal","scale":{"domain":["HNRNPA2B1","HNRNPC","IGF2BP1","IGF2BP2","IGF2BP3","RBMX","YTHDC1","YTHDC2","YTHDF1","YTHDF2","YTHDF3","METTL3","METTL14","RBM15","RBM15B","VIRMA","WTAP","ZC3H13","FTO","ALKBH5"],"paddingInner":0,"paddingOuter":0},"axis":{"title":null,"tickSize":2,"labelAngle":-90,"labelFontSize":6.5,"labelFontWeight":"bold","labelPadding":2}},
       "xOffset":{"field":"k","type":"nominal","scale":{"paddingInner":0.15,"paddingOuter":0.25}},
       "y":{"field":"v","type":"quantitative","scale":{"domain":[0,3],"nice":false},"axis":{"title":"Relative expression","titleFontSize":5,"titleFontWeight":"normal","titlePadding":2,"labelFontSize":4.5,"tickSize":2,"labelPadding":1,"minExtent":9,"maxExtent":9,"values":[0,1,2,3]}},
       "color":{"field":"k","type":"nominal","scale":{"range":["#42a0f7","#fb8013"]},"legend":{"title":null,"orient":"none","legendX":225,"legendY":4,"labelExpr":"datum.value==0?'normal fallopian tube oviduct':'tumors from fallopian tubes'"}}}},
     {"data":{"name":"e"},"mark":{"type":"rule","color":"#a6a6a6","strokeWidth":0.6},"encoding":{"x":{"field":"g","type":"nominal"},"xOffset":{"field":"k","type":"nominal"},"y":{"field":"v","type":"quantitative"},"y2":{"field":"h"}}},
     {"data":{"name":"e"},"mark":{"type":"tick","color":"#a6a6a6","thickness":0.6,"size":2.5},"encoding":{"x":{"field":"g","type":"nominal"},"xOffset":{"field":"k","type":"nominal"},"y":{"field":"h","type":"quantitative"}}},
     {"data":{"name":"e_s"},"mark":{"type":"tick","color":"#000","thickness":0.5,"size":9},"encoding":{"x":{"field":"g","type":"nominal"},"y":{"field":"v","type":"quantitative"}}},
     {"data":{"name":"e_s"},"mark":{"type":"text","text":"*","fontSize":6,"dy":2,"baseline":"alphabetic","color":"#000"},"encoding":{"x":{"field":"g","type":"nominal"},"y":{"field":"v","type":"quantitative"}}}
    ]}
  ]}
 ]},
 {"spacing":7,"resolve":{"scale":{"color":"independent"},"legend":{"color":"independent"}},"vconcat":[
  {"title":{"text":"(f)","orient":"left","anchor":"end","angle":0,"fontSize":11,"fontWeight":"bold","offset":-7,"align":"right","baseline":"top"},
   "spacing":8,"resolve":{"scale":{"color":"independent"},"legend":{"color":"independent"}},"vconcat":[
   {"width":248,"height":11,"data":{"name":"hdr"},"layer":[
     {"mark":{"type":"rect"},"encoding":{"x":{"field":"s","type":"quantitative","scale":{"domain":[0,20],"nice":false},"axis":null},"x2":{"field":"e"},"color":{"field":"grp","type":"nominal","scale":{"domain":["Readers","Writers","Erasers"],"range":["#f29bc4","#80cff2","#bcab0a"]},"legend":null}}},
     {"mark":{"type":"text","fontSize":6.5,"fontWeight":"bold","color":"#000"},"encoding":{"x":{"field":"m","type":"quantitative"},"text":{"field":"grp"}}}]},
   {"width":248,"height":51,"title":{"text":"GSE9891","orient":"left","fontSize":5.5,"fontWeight":"bold","offset":2},
    "layer":[
     {"data":{"name":"sep"},"mark":{"type":"rule","color":"#cccccc","strokeWidth":0.8},"encoding":{"x":{"field":"g","type":"nominal","bandPosition":0}}},
     {"data":{"name":"f"},"mark":{"type":"bar","clip":true},"encoding":{
       "x":{"field":"g","type":"nominal","scale":{"domain":["HNRNPA2B1","HNRNPC","IGF2BP1","IGF2BP2","IGF2BP3","RBMX","YTHDC1","YTHDC2","YTHDF1","YTHDF2","YTHDF3","METTL3","METTL14","RBM15","RBM15B","VIRMA","WTAP","ZC3H13","FTO","ALKBH5"],"paddingInner":0,"paddingOuter":0},"axis":{"labels":false,"title":null,"tickSize":2}},
       "xOffset":{"field":"k","type":"nominal","scale":{"paddingInner":0.15,"paddingOuter":0.25}},
       "y":{"field":"v","type":"quantitative","scale":{"domain":[0.8,1.6],"nice":false,"zero":false},"axis":{"title":"Relative expression","titleFontSize":5,"titleFontWeight":"normal","titlePadding":2,"labelFontSize":4.5,"tickSize":2,"labelPadding":1,"minExtent":9,"maxExtent":9,"values":[0.8,1,1.2,1.4,1.6],"format":".1f"}},
       "color":{"field":"k","type":"nominal","scale":{"range":["#42a0f7","#fb8013"]},"legend":{"title":null,"orient":"none","legendX":226,"legendY":4,"labelExpr":"datum.value==0?'Grade I-II':'Grade III'"}}}},
     {"data":{"name":"f"},"mark":{"type":"rule","color":"#a6a6a6","strokeWidth":0.6},"encoding":{"x":{"field":"g","type":"nominal"},"xOffset":{"field":"k","type":"nominal"},"y":{"field":"v","type":"quantitative"},"y2":{"field":"h"}}},
     {"data":{"name":"f"},"mark":{"type":"tick","color":"#a6a6a6","thickness":0.6,"size":2.5},"encoding":{"x":{"field":"g","type":"nominal"},"xOffset":{"field":"k","type":"nominal"},"y":{"field":"h","type":"quantitative"}}},
     {"data":{"name":"f_s"},"mark":{"type":"tick","color":"#000","thickness":0.5,"size":9},"encoding":{"x":{"field":"g","type":"nominal"},"y":{"field":"v","type":"quantitative"}}},
     {"data":{"name":"f_s"},"mark":{"type":"text","text":"*","fontSize":6,"dy":2,"baseline":"alphabetic","color":"#000"},"encoding":{"x":{"field":"g","type":"nominal"},"y":{"field":"v","type":"quantitative"}}}
    ]}
  ]},
  {"title":{"text":"(g)","orient":"left","anchor":"end","angle":0,"fontSize":11,"fontWeight":"bold","offset":-7,"align":"right","baseline":"top"},
   "vconcat":[
   {"width":248,"height":51,"title":{"text":"GSE9891","orient":"left","fontSize":5.5,"fontWeight":"bold","offset":2},
    "layer":[
     {"data":{"name":"sep"},"mark":{"type":"rule","color":"#cccccc","strokeWidth":0.8},"encoding":{"x":{"field":"g","type":"nominal","bandPosition":0}}},
     {"data":{"name":"g"},"mark":{"type":"bar","clip":true},"encoding":{
       "x":{"field":"g","type":"nominal","scale":{"domain":["HNRNPA2B1","HNRNPC","IGF2BP1","IGF2BP2","IGF2BP3","RBMX","YTHDC1","YTHDC2","YTHDF1","YTHDF2","YTHDF3","METTL3","METTL14","RBM15","RBM15B","VIRMA","WTAP","ZC3H13","FTO","ALKBH5"],"paddingInner":0,"paddingOuter":0},"axis":{"labels":false,"title":null,"tickSize":2}},
       "xOffset":{"field":"k","type":"nominal","scale":{"paddingInner":0.15,"paddingOuter":0.25}},
       "y":{"field":"v","type":"quantitative","scale":{"domain":[0.8,1.6],"nice":false,"zero":false},"axis":{"title":"Relative expression","titleFontSize":5,"titleFontWeight":"normal","titlePadding":2,"labelFontSize":4.5,"tickSize":2,"labelPadding":1,"minExtent":9,"maxExtent":9,"values":[0.8,1,1.2,1.4,1.6],"format":".1f"}},
       "color":{"field":"k","type":"nominal","scale":{"range":["#42a0f7","#fb8013"]},"legend":{"title":null,"orient":"none","legendX":226,"legendY":4,"labelExpr":"datum.value==0?'stage 1-2':'stage 3-4'"}}}},
     {"data":{"name":"g"},"mark":{"type":"rule","color":"#a6a6a6","strokeWidth":0.6},"encoding":{"x":{"field":"g","type":"nominal"},"xOffset":{"field":"k","type":"nominal"},"y":{"field":"v","type":"quantitative"},"y2":{"field":"h"}}},
     {"data":{"name":"g"},"mark":{"type":"tick","color":"#a6a6a6","thickness":0.6,"size":2.5},"encoding":{"x":{"field":"g","type":"nominal"},"xOffset":{"field":"k","type":"nominal"},"y":{"field":"h","type":"quantitative"}}},
     {"data":{"name":"g_s"},"mark":{"type":"tick","color":"#000","thickness":0.5,"size":9},"encoding":{"x":{"field":"g","type":"nominal"},"y":{"field":"v","type":"quantitative"}}},
     {"data":{"name":"g_s"},"mark":{"type":"text","text":"*","fontSize":6,"dy":2,"baseline":"alphabetic","color":"#000"},"encoding":{"x":{"field":"g","type":"nominal"},"y":{"field":"v","type":"quantitative"}}}
    ]}
  ]},
  {"title":{"text":"(h)","orient":"left","anchor":"end","angle":0,"fontSize":11,"fontWeight":"bold","offset":-7,"align":"right","baseline":"top"},
   "vconcat":[
   {"width":248,"height":51,"title":{"text":"GSE73168","orient":"left","fontSize":5.5,"fontWeight":"bold","offset":2},
    "layer":[
     {"data":{"name":"sep"},"mark":{"type":"rule","color":"#cccccc","strokeWidth":0.8},"encoding":{"x":{"field":"g","type":"nominal","bandPosition":0}}},
     {"data":{"name":"h"},"mark":{"type":"bar","clip":true},"encoding":{
       "x":{"field":"g","type":"nominal","scale":{"domain":["HNRNPA2B1","HNRNPC","IGF2BP1","IGF2BP2","IGF2BP3","RBMX","YTHDC1","YTHDC2","YTHDF1","YTHDF2","YTHDF3","METTL3","METTL14","RBM15","RBM15B","VIRMA","WTAP","ZC3H13","FTO","ALKBH5"],"paddingInner":0,"paddingOuter":0},"axis":{"labels":false,"title":null,"tickSize":2}},
       "xOffset":{"field":"k","type":"nominal","scale":{"paddingInner":0.15,"paddingOuter":0.25}},
       "y":{"field":"v","type":"quantitative","scale":{"domain":[0,5],"nice":false},"axis":{"title":"Relative expression","titleFontSize":5,"titleFontWeight":"normal","titlePadding":2,"labelFontSize":4.5,"tickSize":2,"labelPadding":1,"minExtent":9,"maxExtent":9,"values":[0,1,2,3,4,5]}},
       "color":{"field":"k","type":"nominal","scale":{"range":["#9d97f7","#ff45d8"]},"legend":{"title":null,"orient":"none","legendX":226,"legendY":4,"labelExpr":"datum.value==0?'primary tumor cells':'ascites tumor cells'"}}}},
     {"data":{"name":"h"},"mark":{"type":"rule","color":"#a6a6a6","strokeWidth":0.6},"encoding":{"x":{"field":"g","type":"nominal"},"xOffset":{"field":"k","type":"nominal"},"y":{"field":"v","type":"quantitative"},"y2":{"field":"h"}}},
     {"data":{"name":"h"},"mark":{"type":"tick","color":"#a6a6a6","thickness":0.6,"size":2.5},"encoding":{"x":{"field":"g","type":"nominal"},"xOffset":{"field":"k","type":"nominal"},"y":{"field":"h","type":"quantitative"}}},
     {"data":{"name":"h_s"},"mark":{"type":"tick","color":"#000","thickness":0.5,"size":9},"encoding":{"x":{"field":"g","type":"nominal"},"y":{"field":"v","type":"quantitative"}}},
     {"data":{"name":"h_s"},"mark":{"type":"text","text":"*","fontSize":6,"dy":2,"baseline":"alphabetic","color":"#000"},"encoding":{"x":{"field":"g","type":"nominal"},"y":{"field":"v","type":"quantitative"}}}
    ]}
  ]},
  {"title":{"text":"(i)","orient":"left","anchor":"end","angle":0,"fontSize":11,"fontWeight":"bold","offset":-7,"align":"right","baseline":"top"},
   "vconcat":[
   {"width":248,"height":51,"title":{"text":"GSE30587","orient":"left","fontSize":5.5,"fontWeight":"bold","offset":2},
    "layer":[
     {"data":{"name":"sep"},"mark":{"type":"rule","color":"#cccccc","strokeWidth":0.8},"encoding":{"x":{"field":"g","type":"nominal","bandPosition":0}}},
     {"data":{"name":"i"},"mark":{"type":"bar","clip":true},"encoding":{
       "x":{"field":"g","type":"nominal","scale":{"domain":["HNRNPA2B1","HNRNPC","IGF2BP1","IGF2BP2","IGF2BP3","RBMX","YTHDC1","YTHDC2","YTHDF1","YTHDF2","YTHDF3","METTL3","METTL14","RBM15","RBM15B","VIRMA","WTAP","ZC3H13","FTO","ALKBH5"],"paddingInner":0,"paddingOuter":0},"axis":{"labels":false,"title":null,"tickSize":2}},
       "xOffset":{"field":"k","type":"nominal","scale":{"paddingInner":0.15,"paddingOuter":0.25}},
       "y":{"field":"v","type":"quantitative","scale":{"domain":[0,1.5],"nice":false},"axis":{"title":"Relative expression","titleFontSize":5,"titleFontWeight":"normal","titlePadding":2,"labelFontSize":4.5,"tickSize":2,"labelPadding":1,"minExtent":9,"maxExtent":9,"values":[0,0.5,1,1.5],"format":".1f"}},
       "color":{"field":"k","type":"nominal","scale":{"range":["#9d97f7","#ff45d8"]},"legend":{"title":null,"orient":"none","legendX":226,"legendY":4,"labelExpr":"datum.value==0?'primary tumor':'omental metastases'"}}}},
     {"data":{"name":"i"},"mark":{"type":"rule","color":"#a6a6a6","strokeWidth":0.6},"encoding":{"x":{"field":"g","type":"nominal"},"xOffset":{"field":"k","type":"nominal"},"y":{"field":"v","type":"quantitative"},"y2":{"field":"h"}}},
     {"data":{"name":"i"},"mark":{"type":"tick","color":"#a6a6a6","thickness":0.6,"size":2.5},"encoding":{"x":{"field":"g","type":"nominal"},"xOffset":{"field":"k","type":"nominal"},"y":{"field":"h","type":"quantitative"}}},
     {"data":{"name":"i_s"},"mark":{"type":"tick","color":"#000","thickness":0.5,"size":9},"encoding":{"x":{"field":"g","type":"nominal"},"y":{"field":"v","type":"quantitative"}}},
     {"data":{"name":"i_s"},"mark":{"type":"text","text":"*","fontSize":6,"dy":2,"baseline":"alphabetic","color":"#000"},"encoding":{"x":{"field":"g","type":"nominal"},"y":{"field":"v","type":"quantitative"}}}
    ]}
  ]},
  {"title":{"text":"(j)","orient":"left","anchor":"end","angle":0,"fontSize":11,"fontWeight":"bold","offset":-7,"align":"right","baseline":"top"},
   "vconcat":[
   {"width":248,"height":51,"title":{"text":"GSE51373","orient":"left","fontSize":5.5,"fontWeight":"bold","offset":2},
    "layer":[
     {"data":{"name":"sep"},"mark":{"type":"rule","color":"#cccccc","strokeWidth":0.8},"encoding":{"x":{"field":"g","type":"nominal","bandPosition":0}}},
     {"data":{"name":"j"},"mark":{"type":"bar","clip":true},"encoding":{
       "x":{"field":"g","type":"nominal","scale":{"domain":["HNRNPA2B1","HNRNPC","IGF2BP1","IGF2BP2","IGF2BP3","RBMX","YTHDC1","YTHDC2","YTHDF1","YTHDF2","YTHDF3","METTL3","METTL14","RBM15","RBM15B","VIRMA","WTAP","ZC3H13","FTO","ALKBH5"],"paddingInner":0,"paddingOuter":0},"axis":{"title":null,"tickSize":2,"labelAngle":-90,"labelFontSize":6.5,"labelFontWeight":"bold","labelPadding":2,"labelExpr":"datum.value=='HNRNPA2B1'?'NRNPA2B1':datum.value"}},
       "xOffset":{"field":"k","type":"nominal","scale":{"paddingInner":0.15,"paddingOuter":0.25}},
       "y":{"field":"v","type":"quantitative","scale":{"domain":[0,3],"nice":false},"axis":{"title":"Relative expression","titleFontSize":5,"titleFontWeight":"normal","titlePadding":2,"labelFontSize":4.5,"tickSize":2,"labelPadding":1,"minExtent":9,"maxExtent":9,"values":[0,1,2,3]}},
       "color":{"field":"k","type":"nominal","scale":{"range":["#3de8a5","#ff7b76"]},"legend":{"title":null,"orient":"none","legendX":226,"legendY":4,"labelExpr":"datum.value==0?'chemotherapy sensitive':'chemotherapy resistant'"}}}},
     {"data":{"name":"j"},"mark":{"type":"rule","color":"#a6a6a6","strokeWidth":0.6},"encoding":{"x":{"field":"g","type":"nominal"},"xOffset":{"field":"k","type":"nominal"},"y":{"field":"v","type":"quantitative"},"y2":{"field":"h"}}},
     {"data":{"name":"j"},"mark":{"type":"tick","color":"#a6a6a6","thickness":0.6,"size":2.5},"encoding":{"x":{"field":"g","type":"nominal"},"xOffset":{"field":"k","type":"nominal"},"y":{"field":"h","type":"quantitative"}}},
     {"data":{"name":"j_s"},"mark":{"type":"tick","color":"#000","thickness":0.5,"size":9},"encoding":{"x":{"field":"g","type":"nominal"},"y":{"field":"v","type":"quantitative"}}},
     {"data":{"name":"j_s"},"mark":{"type":"text","text":"*","fontSize":6,"dy":2,"baseline":"alphabetic","color":"#000"},"encoding":{"x":{"field":"g","type":"nominal"},"y":{"field":"v","type":"quantitative"}}}
    ]}
  ]}
 ]}
]},
{"spacing":43,"hconcat":[
 {"title":{"text":"(k)","anchor":"start","fontSize":11,"fontWeight":"bold","dx":-18,"offset":1},
  "spacing":9,"hconcat":[
  {"width":116,"height":121,"view":{"stroke":"#888","strokeWidth":1},
   "title":{"text":["Gene symbol: HNRNPC","Response based on: RFS at 6 month","Treatment : paclitaxel"],"anchor":"start","frame":"group","fontSize":7.5,"fontWeight":"bold","lineHeight":8.5,"offset":1},
   "data":{"name":"box"},"transform":[{"filter":"datum.p=='k'"}],
   "encoding":{"x":{"field":"grp","type":"nominal","scale":{"paddingInner":0,"paddingOuter":0.08},"axis":{"title":null,"labelAngle":0,"labelFontSize":6.3,"labelFontWeight":"bold","domain":false,"ticks":false,"labelPadding":4}}},
   "layer":[
    {"mark":{"type":"rule","strokeDash":[2,2],"color":"#444","strokeWidth":0.8},"encoding":{"y":{"field":"lo","type":"quantitative","scale":{"domain":[262,919],"nice":false,"zero":false},"axis":{"title":"Gene expression","titleFontSize":7,"titleFontWeight":"bold","values":[300,400,500,600,700,800],"labelAngle":-90,"labelAlign":"center","labelBaseline":"bottom","labelFontSize":6,"tickSize":3,"offset":3,"domainColor":"#555","labelPadding":2,"titlePadding":2}},"y2":{"field":"hi"}}},
    {"mark":{"type":"bar","fill":"white","stroke":"#555","strokeWidth":1,"width":{"band":0.74}},"encoding":{"y":{"field":"q1","type":"quantitative"},"y2":{"field":"q3"}}},
    {"mark":{"type":"tick","color":"#333","thickness":2,"size":43},"encoding":{"y":{"field":"med","type":"quantitative"}}},
    {"mark":{"type":"tick","color":"#444","thickness":0.8,"size":21},"encoding":{"y":{"field":"lo","type":"quantitative"}}},
    {"mark":{"type":"tick","color":"#444","thickness":0.8,"size":21},"encoding":{"y":{"field":"hi","type":"quantitative"}}}
   ]},
  {"width":117,"height":117,"view":{"stroke":"#888","strokeWidth":1},
   "layer":[
    {"data":{"values":[{"fpr":0,"tpr":0},{"fpr":1,"tpr":1}]},"mark":{"type":"line","color":"#aaa","strokeWidth":0.7},"encoding":{"x":{"field":"fpr","type":"quantitative","scale":{"domain":[-0.04,1.04],"nice":false},"axis":{"title":"False positive rate","titleFontSize":6.5,"titleFontWeight":"bold","values":[0,0.2,0.4,0.6,0.8,1],"format":".1f","labelFontSize":5.5,"tickSize":3,"offset":3,"domainColor":"#555","labelFlush":false,"titlePadding":2}},"y":{"field":"tpr","type":"quantitative","scale":{"domain":[-0.04,1.04],"nice":false},"axis":{"title":"True positive rate","titleFontSize":6.5,"titleFontWeight":"bold","values":[0,0.2,0.4,0.6,0.8,1],"format":".1f","labelFontSize":5.5,"tickSize":3,"offset":3,"domainColor":"#555","labelFlush":false,"labelAngle":-90,"labelAlign":"center","labelBaseline":"bottom","titlePadding":2}}}},
    {"data":{"name":"roc"},"transform":[{"filter":"datum.p=='k'"}],"mark":{"type":"line","color":"#777","strokeWidth":1},"encoding":{"x":{"field":"fpr","type":"quantitative"},"y":{"field":"tpr","type":"quantitative"},"order":{"field":"i","type":"quantitative"}}},
    {"data":{"values":[{"fpr":0.3,"tpr":0.78}]},"mark":{"type":"point","shape":"square","size":5,"color":"#777","filled":true},"encoding":{"x":{"field":"fpr","type":"quantitative"},"y":{"field":"tpr","type":"quantitative"}}},
    {"data":{"values":[{"lines":["AUC: 0.839","p-value: 5e-6","FPR: 0.3","TPR: 0.78"]}]},"mark":{"type":"text","fontSize":8,"fontWeight":"bold","align":"left","baseline":"top","lineHeight":8.5,"color":"#000"},"encoding":{"x":{"datum":0.57},"y":{"datum":0.305},"text":{"field":"lines"}}}
   ]}
 ]},
 {"title":{"text":"(l)","anchor":"start","fontSize":11,"fontWeight":"bold","dx":-4,"offset":1},
  "spacing":-22,"hconcat":[
  {"width":115,"height":121,"view":{"stroke":"#888","strokeWidth":1},
   "title":{"text":["Gene symbol: HNRNPC","Response based on:Pathological response","Treatment : paclitaxel"],"anchor":"start","frame":"group","fontSize":7.5,"fontWeight":"bold","lineHeight":8.5,"offset":1},
   "data":{"name":"box"},"transform":[{"filter":"datum.p=='l'"}],
   "encoding":{"x":{"field":"grp","type":"nominal","scale":{"paddingInner":0,"paddingOuter":0.08},"axis":{"title":null,"labelAngle":0,"labelFontSize":6.3,"labelFontWeight":"bold","domain":false,"ticks":false,"labelPadding":4}}},
   "layer":[
    {"mark":{"type":"rule","strokeDash":[2,2],"color":"#444","strokeWidth":0.8},"encoding":{"y":{"field":"lo","type":"quantitative","scale":{"domain":[250,903],"nice":false,"zero":false},"axis":{"title":"Gene expression","titleFontSize":7,"titleFontWeight":"bold","values":[300,400,500,600,700,800],"labelAngle":-90,"labelAlign":"center","labelBaseline":"bottom","labelFontSize":6,"tickSize":3,"offset":3,"domainColor":"#555","labelPadding":2,"titlePadding":2}},"y2":{"field":"hi"}}},
    {"mark":{"type":"bar","fill":"white","stroke":"#555","strokeWidth":1,"width":{"band":0.74}},"encoding":{"y":{"field":"q1","type":"quantitative"},"y2":{"field":"q3"}}},
    {"mark":{"type":"tick","color":"#333","thickness":2,"size":43},"encoding":{"y":{"field":"med","type":"quantitative"}}},
    {"mark":{"type":"tick","color":"#444","thickness":0.8,"size":21},"encoding":{"y":{"field":"lo","type":"quantitative"}}},
    {"mark":{"type":"tick","color":"#444","thickness":0.8,"size":21},"encoding":{"y":{"field":"hi","type":"quantitative"}}}
   ]},
  {"width":118,"height":117,"view":{"stroke":"#888","strokeWidth":1},
   "layer":[
    {"data":{"values":[{"fpr":0,"tpr":0},{"fpr":1,"tpr":1}]},"mark":{"type":"line","color":"#aaa","strokeWidth":0.7},"encoding":{"x":{"field":"fpr","type":"quantitative","scale":{"domain":[-0.04,1.04],"nice":false},"axis":{"title":"False positive rate","titleFontSize":6.5,"titleFontWeight":"bold","values":[0,0.2,0.4,0.6,0.8,1],"format":".1f","labelFontSize":5.5,"tickSize":3,"offset":3,"domainColor":"#555","labelFlush":false,"titlePadding":2}},"y":{"field":"tpr","type":"quantitative","scale":{"domain":[-0.04,1.04],"nice":false},"axis":{"title":"True positive rate","titleFontSize":6.5,"titleFontWeight":"bold","values":[0,0.2,0.4,0.6,0.8,1],"format":".1f","labelFontSize":5.5,"tickSize":3,"offset":3,"domainColor":"#555","labelFlush":false,"labelAngle":-90,"labelAlign":"center","labelBaseline":"bottom","titlePadding":2}}}},
    {"data":{"name":"roc"},"transform":[{"filter":"datum.p=='l'"}],"mark":{"type":"line","color":"#777","strokeWidth":1},"encoding":{"x":{"field":"fpr","type":"quantitative"},"y":{"field":"tpr","type":"quantitative"},"order":{"field":"i","type":"quantitative"}}},
    {"data":{"values":[{"fpr":0.333,"tpr":0.81}]},"mark":{"type":"point","shape":"square","size":5,"color":"#777","filled":true},"encoding":{"x":{"field":"fpr","type":"quantitative"},"y":{"field":"tpr","type":"quantitative"}}},
    {"data":{"values":[{"lines":["AUC: 0.802","p-value: 2.4e-4","FPR: 0.33","TPR: 0.81"]}]},"mark":{"type":"text","fontSize":8,"fontWeight":"bold","align":"left","baseline":"top","lineHeight":8.5,"color":"#000"},"encoding":{"x":{"datum":0.527},"y":{"datum":0.312},"text":{"field":"lines"}}}
   ]}
 ]}
]}
]
}
